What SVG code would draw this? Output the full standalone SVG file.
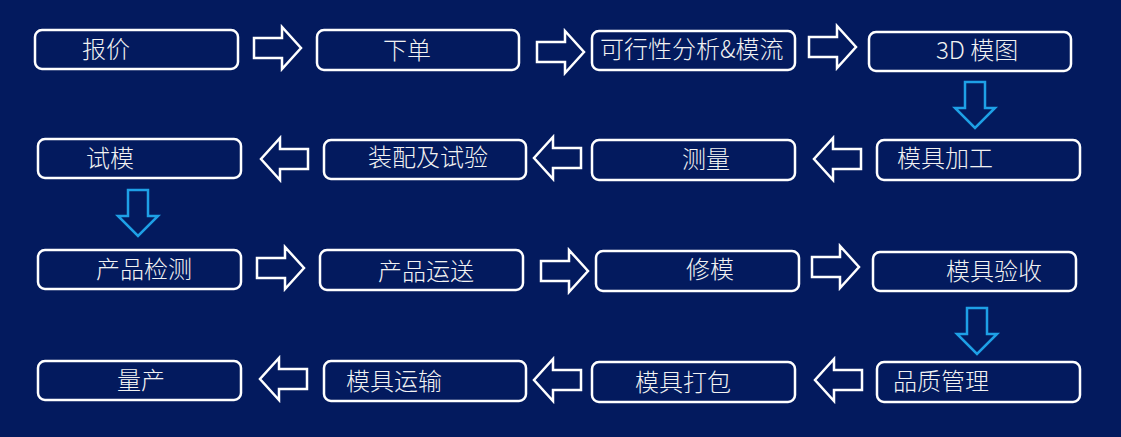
<svg xmlns="http://www.w3.org/2000/svg" xmlns:xlink="http://www.w3.org/1999/xlink" width="1121" height="437" viewBox="0 0 1121 437">
<style>
.box{fill:none;stroke:#ffffff;stroke-width:2.5}
.lbl{font-family:"Noto Sans CJK SC","Liberation Sans",sans-serif;font-size:24px;font-weight:300;fill:#f2f2f2}
.ha{fill:none;stroke:#ffffff;stroke-width:2.5;stroke-linejoin:miter}
.va{fill:none;stroke:#1ea0e6;stroke-width:2.5;stroke-linejoin:miter}
</style>
<defs>
<path id="ar" d="M0,11 H28 V0 L47,21 L28,42 V31 H0 Z"/>
<path id="al" d="M47,11 H19 V0 L0,21 L19,42 V31 H47 Z"/>
<path id="ad" d="M10,0 H30 V26 H40 L20,46 L0,26 H10 Z"/>
</defs>
<rect width="1121" height="437" fill="#031a5e"/>
<g id="n1"><rect class="box" x="35" y="30" width="203" height="39" rx="7"/><text class="lbl" x="82" y="58">报价</text></g>
<g id="n2"><rect class="box" x="317" y="30" width="202" height="40" rx="7"/><text class="lbl" x="383" y="59">下单</text></g>
<g id="n3"><rect class="box" x="592" y="31" width="203" height="39" rx="7"/><text class="lbl" x="600" y="58">可行性分析&amp;模流</text></g>
<g id="n4"><rect class="box" x="869" y="32" width="202" height="39" rx="7"/><text class="lbl" x="936" y="59">3D 模图</text></g>
<g id="n5"><rect class="box" x="877" y="140" width="203" height="40" rx="7"/><text class="lbl" x="897" y="167">模具加工</text></g>
<g id="n6"><rect class="box" x="592" y="140" width="203" height="40" rx="7"/><text class="lbl" x="682" y="168">测量</text></g>
<g id="n7"><rect class="box" x="324" y="140" width="202" height="39" rx="7"/><text class="lbl" x="368" y="166">装配及试验</text></g>
<g id="n8"><rect class="box" x="38" y="139" width="203" height="39" rx="7"/><text class="lbl" x="86" y="167">试模</text></g>
<g id="n9"><rect class="box" x="38" y="250" width="203" height="39" rx="7"/><text class="lbl" x="96" y="278">产品检测</text></g>
<g id="n10"><rect class="box" x="320" y="250" width="203" height="40" rx="7"/><text class="lbl" x="378" y="280">产品运送</text></g>
<g id="n11"><rect class="box" x="596" y="251" width="203" height="40" rx="7"/><text class="lbl" x="686" y="278">修模</text></g>
<g id="n12"><rect class="box" x="873" y="252" width="203" height="39" rx="7"/><text class="lbl" x="946" y="280">模具验收</text></g>
<g id="n13"><rect class="box" x="877" y="362" width="203" height="40" rx="7"/><text class="lbl" x="893" y="390">品质管理</text></g>
<g id="n14"><rect class="box" x="592" y="362" width="203" height="40" rx="7"/><text class="lbl" x="635" y="391">模具打包</text></g>
<g id="n15"><rect class="box" x="324" y="361" width="202" height="40" rx="7"/><text class="lbl" x="346" y="390">模具运输</text></g>
<g id="n16"><rect class="box" x="38" y="361" width="203" height="39" rx="7"/><text class="lbl" x="117" y="389">量产</text></g>
<g id="connectors">
<use href="#ar" class="ha" x="254" y="27"/>
<use href="#ar" class="ha" x="537" y="31"/>
<use href="#ar" class="ha" x="809" y="26"/>
<use href="#ad" class="va" x="955" y="82"/>
<use href="#al" class="ha" x="814" y="138"/>
<use href="#al" class="ha" x="534" y="137"/>
<use href="#al" class="ha" x="261" y="138"/>
<use href="#ad" class="va" x="118" y="190"/>
<use href="#ar" class="ha" x="257" y="247"/>
<use href="#ar" class="ha" x="541" y="250"/>
<use href="#ar" class="ha" x="812" y="246"/>
<use href="#ad" class="va" x="957" y="308"/>
<use href="#al" class="ha" x="815" y="359"/>
<use href="#al" class="ha" x="534" y="359"/>
<use href="#al" class="ha" x="260" y="358"/>
</g>
</svg>
